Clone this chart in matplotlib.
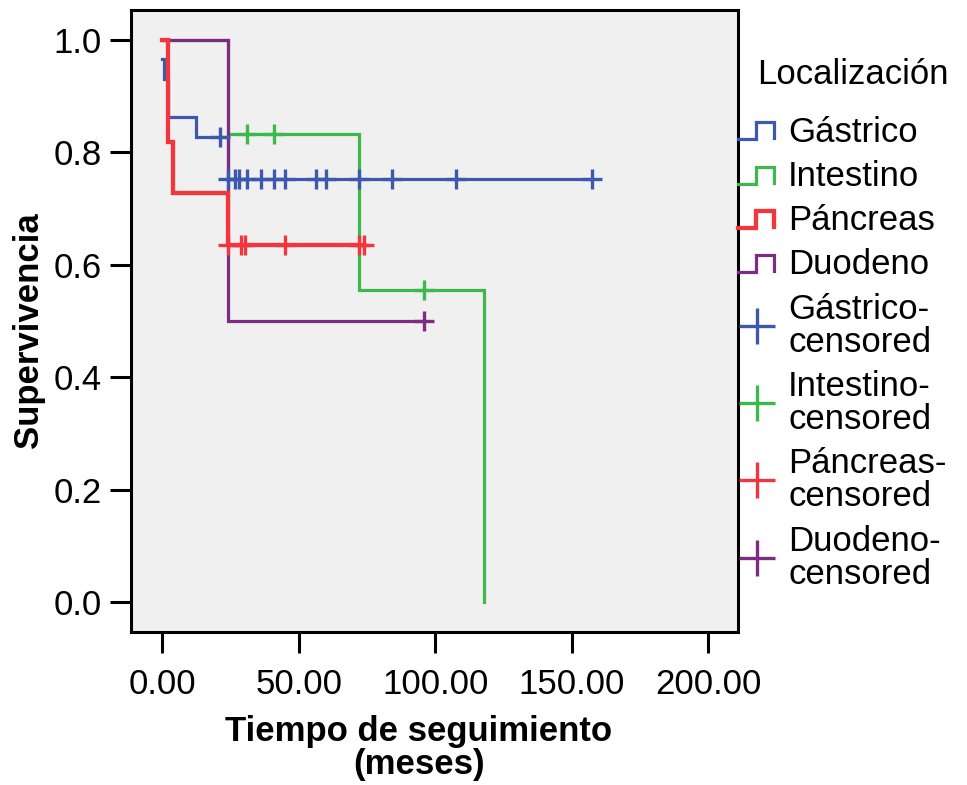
import matplotlib
matplotlib.use("Agg")
import matplotlib.pyplot as plt
from matplotlib.lines import Line2D

plt.rcParams['font.family'] = ['Liberation Sans', 'DejaVu Sans']

# ---- data ----
groups = ["Gástrico", "Intestino", "Páncreas", "Duodeno"]
colors = {"Gástrico": "#3D59AD", "Intestino": "#3DB84A", "Páncreas": "#F3363E", "Duodeno": "#7E2B82"}

gastrico_t = [0.0, 0.6, 2.0, 12.2, 24.0, 157.4]
gastrico_s = [0.966, 0.931, 0.862, 0.828, 0.753, 0.753]
gastrico_cens_t = [21.0, 24.1, 26.8, 28.2, 30.9, 36.1, 40.8, 45.0, 56.2, 59.9, 72.0, 84.0, 107.8, 157.4]
gastrico_cens_s = [0.828] + [0.753] * 13

intestino_t = [0.0, 24.0, 72.0, 118.0]
intestino_s = [1.0, 0.833, 0.556, 0.0]
intestino_cens_t = [30.9, 40.8, 96.0]
intestino_cens_s = [0.833, 0.833, 0.556]

pancreas_t = [0.0, 1.9, 4.0, 24.0, 73.9]
pancreas_s = [1.0, 0.818, 0.727, 0.636, 0.636]
pancreas_cens_t = [24.1, 28.8, 30.3, 45.0, 72.1, 73.9]
pancreas_cens_s = [0.636] * 6

duodeno_t = [0.0, 24.0, 96.0]
duodeno_s = [1.0, 0.5, 0.5]
duodeno_cens_t = [96.0]
duodeno_cens_s = [0.5]

x_ticks = [0, 50, 100, 150, 200]
y_ticks = [0.0, 0.2, 0.4, 0.6, 0.8, 1.0]

curves = {
    "Gástrico": (gastrico_t, gastrico_s, gastrico_cens_t, gastrico_cens_s),
    "Intestino": (intestino_t, intestino_s, intestino_cens_t, intestino_cens_s),
    "Páncreas": (pancreas_t, pancreas_s, pancreas_cens_t, pancreas_cens_s),
    "Duodeno": (duodeno_t, duodeno_s, duodeno_cens_t, duodeno_cens_s),
}
lws = {"Gástrico": 2.3, "Intestino": 2.3, "Páncreas": 3.1, "Duodeno": 2.3}

W, H = 967, 785
fig = plt.figure(figsize=(W / 100, H / 100), dpi=100)
fig.patch.set_facecolor("white")

def fx(px):
    return px / W

def fy(py):
    return 1 - py / H

ax = fig.add_axes([fx(131), fy(632), fx(738) - fx(131), fy(10) - fy(632)])
ax.set_facecolor("#F0F0F0")

draw_order = ["Gástrico", "Intestino", "Duodeno", "Páncreas"]
for g in draw_order:
    t, s, ct, cs = curves[g]
    ax.step(t, s, where="post", color=colors[g], lw=lws[g], solid_joinstyle="miter", zorder=2)
for g in groups:
    t, s, ct, cs = curves[g]
    ax.plot(ct, cs, linestyle="none", marker="+", markersize=15, mew=2.4,
            color=colors[g], zorder=3)

ax.set_xlim(-11.5, 211)
ax.set_ylim(-0.053, 1.053)
ax.set_xticks(x_ticks)
ax.set_xticklabels([f"{v:.2f}" for v in x_ticks])
ax.set_yticks(y_ticks)
ax.set_yticklabels([f"{v:.1f}" for v in y_ticks])
for sp in ax.spines.values():
    sp.set_linewidth(2.2)
    sp.set_color("black")
ax.tick_params(axis="x", length=15, width=2.2, pad=11, labelsize=25)
ax.tick_params(axis="y", length=15, width=2.2, pad=6, labelsize=25)

ax.set_xlabel("Tiempo de seguimiento\n(meses)", fontsize=25, fontweight="bold",
              linespacing=1.02)
ax.xaxis.set_label_coords(0.474, -0.133)
ax.set_ylabel("Supervivencia", fontsize=25, fontweight="bold")
ax.yaxis.set_label_coords(-0.142, 0.485)

# ---- legend (manual) ----
fs_leg = 25
fig.text(fx(757), fy(74), "Localización", fontsize=fs_leg, ha="left", va="center")
entry_y = [132, 177, 221, 265]
for g, yy in zip(groups, entry_y):
    xs = [fx(738), fx(756), fx(756), fx(774), fx(774)]
    ys = [fy(yy + 7), fy(yy + 7), fy(yy - 10), fy(yy - 10), fy(yy + 6)]
    fig.add_artist(Line2D(xs, ys, color=colors[g], lw=lws[g], solid_joinstyle="miter",
                          transform=fig.transFigure))
    fig.text(fx(788), fy(yy), g, fontsize=fs_leg, ha="left", va="center")

cens_y = [326, 403, 480, 558]
for g, yy in zip(groups, cens_y):
    fig.add_artist(Line2D([fx(757)], [fy(yy)], marker="+", markersize=26, mew=2.4,
                          color=colors[g], linestyle="none", transform=fig.transFigure))
    fig.text(fx(788), fy(yy), f"{g}-\ncensored", fontsize=fs_leg, ha="left", va="center",
             linespacing=1.0)

fig.savefig("out.png", dpi=100)
